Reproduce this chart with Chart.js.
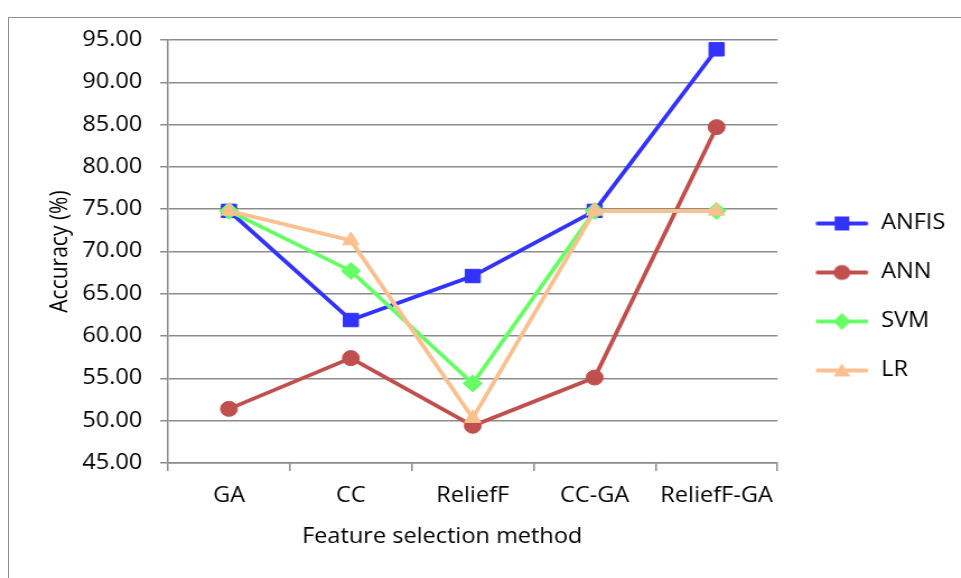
<!DOCTYPE html>
<html>
<head>
<meta charset="utf-8">
<script src="https://cdn.jsdelivr.net/npm/chart.js@4/dist/chart.umd.min.js"></script>
<style>
    body { margin: 0; background: #fff; width: 961px; height: 578px; overflow: hidden; position: relative; }
    #frame { position: absolute; left: 8px; top: 17px; width: 1000px; height: 600px;
             border-left: 1.5px solid #8f8f8f; border-top: 1.5px solid #8f8f8f; }
    #accuracyChart { position: absolute; left: 0; top: 0; transform: scaleX(1.12); transform-origin: 0 0; }
</style>
</head>
<body>
<div id="frame"></div>
<canvas id="accuracyChart" width="858" height="578"></canvas>
<script>
const methods = ['GA', 'CC', 'ReliefF', 'CC-GA', 'ReliefF-GA'];
const anfisAcc = [74.8, 61.9, 67.1, 74.8, 93.9];
const annAcc = [51.4, 57.4, 49.4, 55.1, 84.7];
const svmAcc = [74.8, 67.7, 54.4, 74.8, 74.8];
const lrAcc = [74.8, 71.3, 50.3, 74.8, 74.8];
const yTicks = [45, 50, 55, 60, 65, 70, 75, 80, 85, 90, 95];

const FONT = { family: '"Open Sans", sans-serif', size: 21 };
const GRID = '#8c8c8c';

// line + marker swatch for the legend
function legendIcon(color, style) {
    const c = document.createElement('canvas');
    c.width = 54; c.height = 20;
    const ctx = c.getContext('2d');
    ctx.strokeStyle = color;
    ctx.fillStyle = color;
    ctx.lineWidth = 4;
    ctx.lineCap = 'round';
    ctx.beginPath();
    ctx.moveTo(8, 10);
    ctx.lineTo(51, 10);
    ctx.stroke();
    const cx = 29.5, cy = 10;
    ctx.beginPath();
    if (style === 'rect') {
        ctx.rect(cx - 6.5, cy - 7, 13, 14);
    } else if (style === 'circle') {
        ctx.arc(cx, cy, 7.5, 0, Math.PI * 2);
    } else if (style === 'rectRot') {
        ctx.moveTo(cx, cy - 8.5); ctx.lineTo(cx + 8, cy); ctx.lineTo(cx, cy + 8.5); ctx.lineTo(cx - 8, cy);
        ctx.closePath();
    } else {
        ctx.moveTo(cx, cy - 7); ctx.lineTo(cx + 7.5, cy + 6); ctx.lineTo(cx - 7.5, cy + 6);
        ctx.closePath();
    }
    ctx.fill();
    return c;
}

function series(label, data, color, style, radius, order) {
    return {
        label: label,
        data: data,
        borderColor: color,
        backgroundColor: color,
        borderWidth: 3.8,
        pointStyle: style,
        pointRadius: radius,
        pointHoverRadius: radius,
        pointBackgroundColor: color,
        pointBorderColor: color,
        pointBorderWidth: 1,
        tension: 0,
        order: order,
        legendIcon: legendIcon(color, style)
    };
}

const datasets = [
    series('ANFIS', anfisAcc, '#3333ff', 'rect', 9.5, 4),
    series('ANN', annAcc, '#c0504d', 'circle', 7.5, 3),
    series('SVM', svmAcc, '#66ff66', 'rectRot', 8.5, 2),
    series('LR', lrAcc, '#fac090', 'triangle', 8.5, 1)
];

new Chart(document.getElementById('accuracyChart'), {
    type: 'line',
    data: { labels: methods, datasets: datasets },
    options: {
        responsive: false,
        animation: false,
        clip: false,
        layout: { autoPadding: false, padding: { left: 20, top: 40, right: 4, bottom: 24 } },
        plugins: {
            tooltip: { enabled: false },
            legend: {
                position: 'right',
                labels: {
                    usePointStyle: true,
                    pointStyleWidth: 54,
                    boxHeight: 20,
                    padding: 28,
                    color: '#000',
                    font: FONT,
                    generateLabels: chart => chart.data.datasets.map((ds, i) => ({
                        text: ds.label,
                        pointStyle: ds.legendIcon,
                        fillStyle: ds.borderColor,
                        strokeStyle: ds.borderColor,
                        lineWidth: 0,
                        fontColor: '#000',
                        datasetIndex: i
                    }))
                }
            }
        },
        scales: {
            x: {
                offset: true,
                grid: { offset: true, drawOnChartArea: false, drawTicks: true, tickLength: 8, color: GRID, lineWidth: 1.5 },
                border: { color: GRID, width: 1.5 },
                ticks: { color: '#000', font: FONT, padding: 12, maxRotation: 0 },
                // trailing spaces push the title a little left of the axis centre
                title: { display: true, text: 'Feature selection method'.padEnd(34), color: '#000', font: FONT, padding: { top: 0, bottom: 4 } },
                afterFit: scale => { scale.height = 91; }
            },
            y: {
                min: 45,
                max: 95,
                afterBuildTicks: scale => { scale.ticks = yTicks.map(v => ({ value: v })); },
                grid: { color: GRID, lineWidth: 1.5, tickLength: 7 },
                border: { color: GRID, width: 1.5 },
                ticks: { color: '#000', font: FONT, padding: 16, callback: v => Number(v).toFixed(2) },
                title: { display: true, text: 'Accuracy (%)', color: '#000', font: FONT, padding: { top: 21, bottom: 0 } },
                afterFit: scale => { scale.width = 130; }
            }
        }
    }
});
</script>
</body>
</html>
